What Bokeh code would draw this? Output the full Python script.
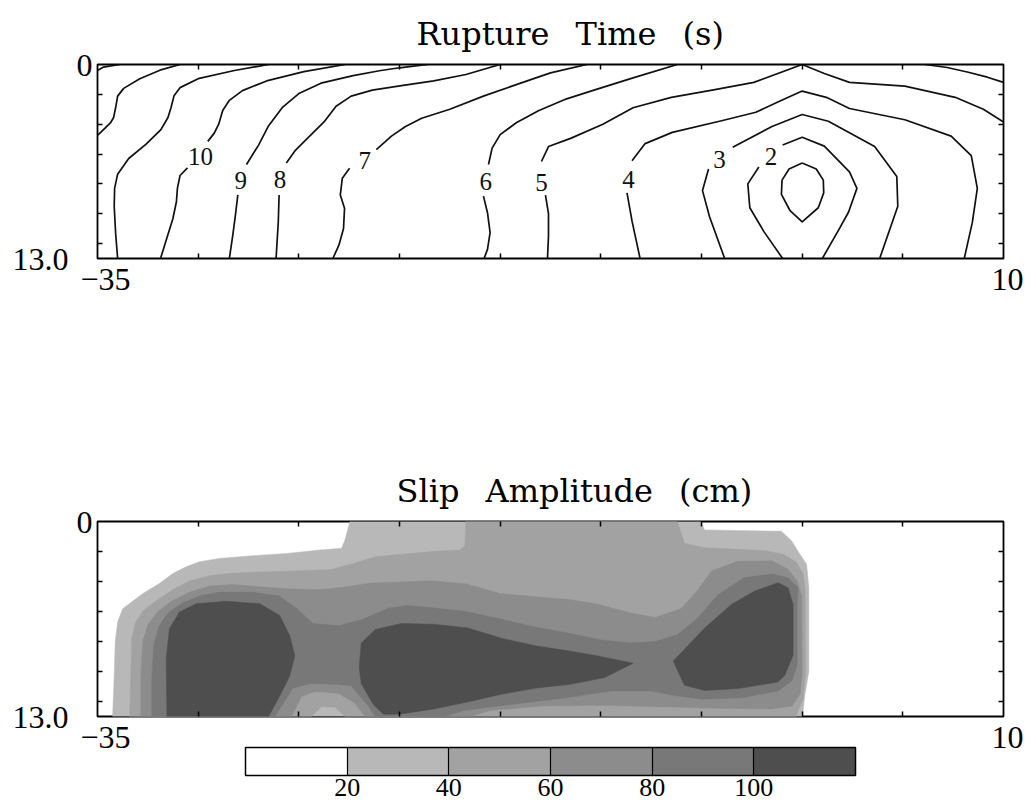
from bokeh.plotting import figure
from bokeh.models import Range1d, LinearAxis, FixedTicker, ColorBar, LinearColorMapper, ColumnDataSource
from bokeh.layouts import column
from bokeh.core.properties import value
from bokeh.embed import file_html
from bokeh.resources import INLINE

NB = "\u00a0"
EN = "\u2002"

# ------------------------------------------------------------------ data
# axes: along-strike distance (km) and depth (km)
x_start, x_end = -35, 10
depth_top, depth_bottom = 0, 13
x_minor_ticks = [-30, -25, -20, -15, -10, -5, 0, 5]
depth_minor_ticks = [2, 4, 6, 8, 10, 12]
x_tick_labels = {-35: NB * 2 + "\u221235", 10: NB + "10"}
depth_tick_labels = {0: "0", 13: "13.0" + NB * 3}

# ---- rupture time contours (s), traced polylines (x km, depth km)
rt13_x = [-35, -34.7, -33.9]
rt13_y = [0.4, 0.17, 0]
rt12_x = [-30.9, -31.9, -32.9, -33.7, -34.0, -34.1, -34.2, -34.35, -34.65, -35]
rt12_y = [0, 0.38, 0.95, 1.6, 2.12, 2.9, 3.55, 3.9, 4.3, 4.75]
rt11_x = [-26.5, -28.2, -30.0, -30.9, -31.2, -31.35, -31.5, -31.85, -32.6, -33.45, -34.0, -34.15, -34.17, -34.1, -34.0]
rt11_y = [0, 0.4, 0.95, 1.55, 2.1, 2.9, 3.55, 4.36, 5.35, 6.3, 7.35, 8.3, 9.5, 11.3, 13]
rt10a_x = [-22.7, -24.75, -26.6, -27.8, -28.45, -28.78, -28.98, -29.2, -29.52]
rt10a_y = [0, 0.48, 1.1, 1.75, 2.4, 3.08, 4.0, 4.6, 5.15]
rt10b_x = [-30.53, -30.9, -31.03, -31.08, -31.26, -31.57, -31.87]
rt10b_y = [6.93, 7.44, 8.28, 9.2, 10.35, 11.7, 13]
rt9a_x = [-18.6, -20.0, -21.0, -22.3, -23.9, -25.0, -25.8, -26.5, -27.0, -27.6]
rt9a_y = [0, 0.22, 0.42, 0.75, 1.25, 1.95, 2.85, 4.1, 5.4, 6.7]
rt9b_x = [-28.03, -28.15, -28.28, -28.45]
rt9b_y = [8.74, 10.09, 11.43, 13]
rt8a_x = [-25.62, -25.17, -24.5, -23.75, -23.15, -22.4, -21.35, -19.9, -18.3, -16.7, -15.0]
rt8a_y = [6.6, 5.75, 4.85, 3.85, 2.8, 2.12, 1.72, 1.42, 1.1, 0.67, 0]
rt8b_x = [-25.98, -26.02, -26.13]
rt8b_y = [8.74, 10.54, 13]
rt7a_x = [-21.15, -20.4, -19.7, -18.9, -17.5, -15.8, -14.2, -12.5, -10.7]
rt7a_y = [5.7, 4.8, 4.15, 3.6, 3.0, 2.1, 1.35, 0.56, 0]
rt7b_x = [-22.48, -22.84, -22.94, -22.73, -22.78, -23.01, -23.31]
rt7b_y = [6.95, 7.62, 8.74, 9.64, 10.99, 12.11, 13]
rt6a_x = [-15.58, -15.4, -15.0, -14.2, -13.1, -11.7, -10.3, -8.4, -6.2]
rt6a_y = [6.7, 5.6, 4.7, 3.9, 3.1, 2.3, 1.7, 0.9, 0]
rt6b_x = [-15.83, -15.63, -15.5, -15.63, -15.8]
rt6b_y = [8.82, 9.93, 11.27, 12.39, 13]
rt6c_x = [6.1, 7.2, 8.2, 9.2, 10]
rt6c_y = [0, 0.2, 0.5, 0.85, 1.2]
rt5a_x = [-12.95, -12.6, -11.5, -9.9, -8.4, -6.5, -4.4, -2.4, 0, 1.1, 2.35, 5.1, 7.6, 9.0, 10]
rt5a_y = [6.5, 5.5, 4.95, 4.0, 2.9, 2.2, 1.7, 1.2, 0, 0.6, 1.2, 1.45, 2.2, 3.0, 3.85]
rt5b_x = [-12.75, -12.6, -12.6, -12.65]
rt5b_y = [8.75, 10.0, 11.5, 13]
rt4a_x = [-8.45, -7.8, -6.45, -3.95, -2.3, -1.1, 0, 1.2, 2.35, 5.1, 7.4, 8.4, 8.7, 8.45, 8.05]
rt4a_y = [6.45, 5.3, 4.55, 3.75, 3.2, 2.45, 1.78, 2.2, 2.95, 3.7, 4.8, 6.1, 8.3, 10.6, 13]
rt4b_x = [-8.7, -8.45, -8.05]
rt4b_y = [8.6, 10.5, 13]
rt3a_x = [-3.45, -1.5, 0, 1.3, 3.6, 4.7, 4.75, 3.85]
rt3a_y = [5.55, 4.15, 3.35, 3.8, 5.5, 7.5, 9.5, 13]
rt3b_x = [-4.65, -4.95, -4.6, -3.85]
rt3b_y = [7.0, 8.45, 10.2, 13]
rt2a_x = [-0.97, 0, 1.1, 2.35, 2.72, 2.3, 1.85, 1.0]
rt2a_y = [5.4, 4.88, 5.47, 7.2, 8.3, 9.9, 11.0, 13]
rt2b_x = [-2.15, -2.7, -2.6, -1.9, -0.97]
rt2b_y = [6.87, 8.0, 9.6, 11.2, 13]
rt1_x = [0, 0.7, 1.05, 1.07, 0.8, 0, -0.6, -1.03, -1.0, -0.65, 0]
rt1_y = [6.6, 7.0, 7.75, 8.6, 9.6, 10.55, 9.8, 8.7, 7.75, 7.0, 6.6]

rt_label_text = ["10", "9", "8", "7", "6", "5", "4", "3", "2"]
rt_label_x = [-29.88, -27.88, -25.93, -21.72, -15.72, -12.95, -8.62, -4.1, -1.55]
rt_label_y = [6.14, 7.78, 7.72, 6.43, 7.85, 7.9, 7.7, 6.35, 6.15]

# ---- slip amplitude (cm): region boundaries of each level (x km, depth km)
slip_levels = [0, 20, 40, 60, 80, 100, 120]
slip_palette = ["#ffffff", "#b8b8b8", "#a2a2a2", "#8c8c8c", "#787878", "#4e4e4e"]
colorbar_ticks = [20, 40, 60, 80, 100]

slip20_x = [-34.25, -34.17, -34.12, -34.0, -33.75, -33.42, -32.76, -31.93, -31.26, -30.6, -29.93, -28.94,
            -27.28, -25.61, -23.95, -22.87, -22.71, -22.46, -5.02, -4.85, -1.03, -0.53, -0.2, 0.22, 0.33,
            0.33, 0.13, 0.02]
slip20_y = [13, 10.3, 8.05, 6.7, 5.82, 5.48, 4.81, 4.14, 3.47, 3.02, 2.68, 2.46, 2.28, 2.13, 1.9, 1.79,
            1.23, 0, 0, 0.56, 0.65, 1.28, 2.0, 2.85, 4.42, 10.0, 11.6, 13]
slip40_x = [-33.4, -33.35, -33.3, -33.1, -32.7, -32.0, -31.2, -30.4, -29.4, -28.3, -27.2, -25.3, -23.4,
            -22.3, -21.2, -20.0, -18.4, -17.0, -16.75, -16.7, -6.2, -5.85, -4.85, -3.2, -1.8, -0.9, -0.3,
            0.05, 0.15, 0.17, 0.05, -0.2, -0.3, -22.71, -23.2, -23.87, -24.37]
slip40_y = [13, 10.3, 7.8, 6.7, 5.9, 5.2, 4.5, 3.95, 3.6, 3.45, 3.38, 3.3, 3.2, 2.8, 2.35, 2.2, 2.0, 1.9,
            1.6, 0, 0, 1.45, 1.75, 1.85, 1.95, 2.2, 2.7, 3.5, 4.6, 10.0, 11.8, 12.6, 13, 13, 12.39, 12.34, 13]
slip60_x = [-32.85, -32.85, -32.75, -32.5, -32.0, -31.3, -30.4, -29.4, -28.3, -27.0, -25.6, -24.0, -22.9,
            -21.4, -20.0, -18.4, -16.7, -15.0, -13.4, -11.6, -10.2, -8.5, -7.3, -6.0, -5.2, -4.5, -3.2,
            -1.5, -0.7, -0.25, -0.02, 0.0, -0.1, -0.5, -1.5, -4.0, -7.0, -10.0, -13.0, -15.5, -16.5,
            -21.71, -22.21, -23.04, -24.2, -24.87, -25.37]
slip60_y = [13, 10.3, 8.0, 6.9, 6.0, 5.3, 4.7, 4.3, 4.2, 4.35, 4.48, 4.55, 4.4, 4.1, 4.04, 3.95, 4.16,
            4.8, 5.0, 5.2, 5.5, 6.1, 6.4, 5.8, 4.6, 3.3, 2.65, 2.62, 3.18, 3.97, 5.0, 10.0, 11.5, 12.3,
            12.5, 12.45, 12.35, 12.25, 12.3, 12.6, 13, 13, 12.12, 11.45, 11.34, 11.67, 13]
slip80_x = [-32.3, -32.3, -32.2, -31.95, -31.5, -30.8, -29.9, -28.9, -27.3, -26.0, -25.1, -24.3, -23.0,
            -21.8, -20.6, -19.6, -18.4, -16.7, -15.0, -13.4, -11.6, -10.0, -8.5, -7.3, -6.2, -5.2, -4.2,
            -2.9, -1.5, -0.7, -0.2, -0.25, -0.25, -0.5, -1.2, -3.0, -5.0, -6.3, -7.5, -9.5, -12.0, -14.5,
            -16.8, -17.8, -21.2, -21.55, -22.4, -23.1, -24.4, -25.3, -25.8, -26.2]
slip80_y = [13, 10.3, 8.2, 7.0, 6.1, 5.45, 4.95, 4.7, 4.72, 4.95, 5.8, 6.8, 6.95, 6.5, 5.8, 5.6, 5.75,
            6.0, 6.5, 7.0, 7.45, 7.9, 8.1, 8.0, 7.55, 6.45, 4.9, 3.75, 3.5, 3.75, 4.42, 5.5, 9.6, 10.6,
            11.3, 11.75, 11.85, 11.6, 11.3, 11.3, 11.8, 12.2, 12.6, 13, 13, 12.3, 10.95, 10.85, 10.8,
            11.1, 12.2, 13]
slip100_left_x = [-31.55, -31.59, -31.43, -30.93, -30.1, -28.6, -26.94, -25.95, -25.45, -25.2, -25.45,
                  -25.95, -26.3, -26.5]
slip100_left_y = [13, 9.17, 7.16, 6.04, 5.48, 5.32, 5.48, 6.26, 7.61, 8.95, 10.29, 11.63, 12.5, 13]
slip100_mid_x = [-22.0, -21.9, -21.2, -19.9, -18.3, -16.6, -14.9, -13.2, -11.7, -10.2, -8.4, -9.8, -11.5,
                 -13.2, -14.9, -16.5, -18.3, -20.0, -20.8, -21.3, -21.9]
slip100_mid_y = [9.7, 8.1, 7.2, 6.8, 6.85, 7.1, 7.8, 8.3, 8.6, 8.95, 9.45, 10.4, 10.85, 11.1, 11.5, 12.0,
                 12.5, 12.85, 12.85, 12.2, 10.8]
slip100_right_x = [-6.4, -4.85, -3.52, -2.36, -1.2, -0.7, -0.45, -0.45, -0.86, -1.2, -3.19, -4.85, -5.85]
slip100_right_y = [9.3, 7.11, 5.54, 4.64, 4.08, 4.42, 5.54, 8.9, 10.25, 10.7, 11.14, 11.26, 10.92]

# ------------------------------------------------------------------ helpers
TICK_FONT = "Liberation Serif"
TITLE_FONT = "DejaVu Serif"


def style_axis(ax, labels=True):
    ax.axis_line_color = None
    ax.major_tick_in = 0
    ax.major_tick_out = 0
    ax.minor_tick_in = 5
    ax.minor_tick_out = 0
    ax.minor_tick_line_color = "black"
    ax.minor_tick_line_width = 1.5
    ax.major_label_text_font = TICK_FONT
    ax.major_label_text_font_size = "32px"
    ax.major_label_text_color = "black"
    if not labels:
        ax.major_label_text_font_size = "0px"


def make_panel(width, height, left, right, top, bottom, title, title_offset):
    p = figure(width=width, height=height,
               x_range=Range1d(x_start, x_end), y_range=Range1d(depth_bottom, depth_top),
               x_axis_location=None, y_axis_location=None,
               output_backend="svg", toolbar_location=None,
               min_border_left=left, min_border_right=right,
               min_border_top=top, min_border_bottom=bottom)
    p.grid.visible = False
    p.outline_line_color = "black"
    p.outline_line_width = 1.8
    p.background_fill_color = "white"
    p.border_fill_color = "white"

    bx = LinearAxis(ticker=FixedTicker(ticks=[x_start, x_end], minor_ticks=x_minor_ticks),
                    major_label_overrides=x_tick_labels)
    style_axis(bx)
    bx.major_label_standoff = 2
    p.add_layout(bx, "below")

    ly = LinearAxis(ticker=FixedTicker(ticks=[depth_top, depth_bottom], minor_ticks=depth_minor_ticks),
                    major_label_overrides=depth_tick_labels)
    style_axis(ly)
    ly.major_label_standoff = 5
    p.add_layout(ly, "left")

    tx = LinearAxis(ticker=FixedTicker(ticks=[], minor_ticks=x_minor_ticks))
    style_axis(tx, labels=False)
    p.add_layout(tx, "above")

    ry = LinearAxis(ticker=FixedTicker(ticks=[], minor_ticks=depth_minor_ticks))
    style_axis(ry, labels=False)
    p.add_layout(ry, "right")

    p.title.text = title
    p.title.align = "left"
    p.title.offset = title_offset
    p.title.text_font = TITLE_FONT
    p.title.text_font_size = "32px"
    p.title.text_font_style = "normal"
    p.title.text_color = "black"
    p.title.standoff = 24
    return p


# ------------------------------------------------------------------ rupture time
p1 = make_panel(1029, 300, 93, 26, 63, 42, "Rupture" + EN + " Time" + EN + " (s)", 319)

rt_segments = [(rt13_x, rt13_y), (rt12_x, rt12_y), (rt11_x, rt11_y),
               (rt10a_x, rt10a_y), (rt10b_x, rt10b_y), (rt9a_x, rt9a_y), (rt9b_x, rt9b_y),
               (rt8a_x, rt8a_y), (rt8b_x, rt8b_y), (rt7a_x, rt7a_y), (rt7b_x, rt7b_y),
               (rt6a_x, rt6a_y), (rt6b_x, rt6b_y), (rt6c_x, rt6c_y), (rt5a_x, rt5a_y), (rt5b_x, rt5b_y),
               (rt4a_x, rt4a_y), (rt4b_x, rt4b_y), (rt3a_x, rt3a_y), (rt3b_x, rt3b_y),
               (rt2a_x, rt2a_y), (rt2b_x, rt2b_y), (rt1_x, rt1_y)]
p1.multi_line(xs=[s[0] for s in rt_segments], ys=[s[1] for s in rt_segments],
              line_color="#111111", line_width=1.7, line_join="round")
p1.text(x=rt_label_x, y=rt_label_y, text=rt_label_text,
        text_font=value(TICK_FONT), text_font_size="25px", text_color="#111111",
        text_align="center", text_baseline="middle")

# ------------------------------------------------------------------ slip amplitude
p2 = make_panel(1029, 506, 97, 25, 221, 90, "Slip" + EN + " Amplitude" + EN + " (cm)", 299)

slip_regions = [
    (slip20_x, slip20_y, slip_palette[1]),
    (slip40_x, slip40_y, slip_palette[2]),
    (slip60_x, slip60_y, slip_palette[3]),
    (slip80_x, slip80_y, slip_palette[4]),
    (slip100_left_x, slip100_left_y, slip_palette[5]),
    (slip100_mid_x, slip100_mid_y, slip_palette[5]),
    (slip100_right_x, slip100_right_y, slip_palette[5]),
]
src = ColumnDataSource(dict(xs=[r[0] for r in slip_regions], ys=[r[1] for r in slip_regions],
                            color=[r[2] for r in slip_regions]))
p2.patches(xs="xs", ys="ys", fill_color="color", line_color="color", line_width=0.5, source=src)

mapper = LinearColorMapper(palette=slip_palette, low=slip_levels[0], high=slip_levels[-1])
cbar = ColorBar(color_mapper=mapper, orientation="horizontal", width=610, height=28,
                location=(148, -82), padding=0,
                ticker=FixedTicker(ticks=colorbar_ticks),
                major_tick_in=28, major_tick_out=0, major_tick_line_color="black", major_tick_line_width=1.2,
                minor_tick_line_color=None, bar_line_color="black", bar_line_width=1.5,
                label_standoff=3, major_label_text_font=TICK_FONT, major_label_text_font_size="26px",
                major_label_text_color="black",
                background_fill_color=None, border_line_color=None)
p2.add_layout(cbar)

layout = column(p1, p2, spacing=0)
open("out.html", "w").write(file_html(layout, INLINE))
